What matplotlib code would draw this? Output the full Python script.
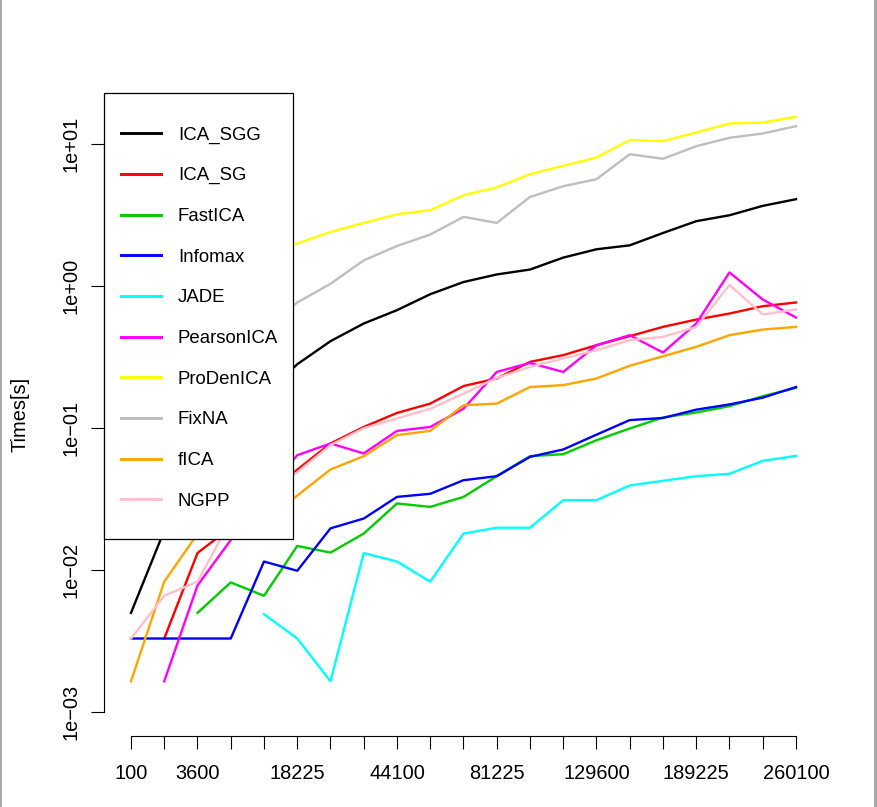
import matplotlib
matplotlib.use("Agg")
import matplotlib.pyplot as plt
import numpy as np
from matplotlib.patches import Rectangle

nan = np.nan

# image sizes (n x n pixels), 21 runs
sizes = [100, 1225, 3600, 7225, 12100, 18225, 25600, 34225, 44100, 55225, 67600,
         81225, 96100, 112225, 129600, 148225, 168100, 189225, 211600, 235225, 260100]
# R dropped overlapping labels, only these were printed
shown = [100, 3600, 18225, 44100, 81225, 129600, 189225, 260100]

ica_sgg = [0.005, 0.019, 0.045, 0.085, 0.17, 0.282, 0.41, 0.546, 0.678, 0.878, 1.07,
           1.21, 1.31, 1.59, 1.82, 1.94, 2.37, 2.87, 3.16, 3.68, 4.10]
ica_sg = [nan, 0.0033, 0.0132, 0.020, 0.032, 0.051, 0.078, 0.102, 0.128, 0.149, 0.198,
          0.224, 0.293, 0.327, 0.384, 0.445, 0.517, 0.582, 0.642, 0.723, 0.768]
fastica = [nan, nan, 0.005, 0.0082, 0.0066, 0.0148, 0.0133, 0.0181, 0.0295, 0.0279, 0.0328,
           0.0459, 0.0635, 0.0656, 0.0823, 0.0995, 0.119, 0.129, 0.143, 0.168, 0.192]
infomax = [0.0033, 0.0033, 0.0033, 0.0033, 0.0115, 0.0099, 0.0197, 0.0231, 0.0328, 0.0345, 0.043,
           0.0459, 0.0628, 0.0708, 0.090, 0.114, 0.118, 0.135, 0.147, 0.164, 0.195]
jade = [nan, nan, nan, nan, 0.0049, 0.0033, 0.00165, 0.0132, 0.0115, 0.0083, 0.0181,
        0.0199, 0.0199, 0.0311, 0.0311, 0.0395, 0.0426, 0.0459, 0.0477, 0.0589, 0.0638]
pearson = [nan, 0.00165, 0.0078, 0.0163, 0.035, 0.0645, 0.078, 0.0664, 0.0957, 0.102, 0.137,
           0.249, 0.288, 0.249, 0.384, 0.452, 0.341, 0.546, 1.25, 0.806, 0.602]
prodenica = [0.15, 0.35, 0.7, 1.1, 1.6, 2.0, 2.41, 2.79, 3.21, 3.43, 4.37,
             4.96, 6.15, 7.04, 8.06, 10.7, 10.5, 12.1, 14.0, 14.2, 15.6]
fixna = [0.04, 0.09, 0.18, 0.32, 0.5, 0.767, 1.04, 1.52, 1.92, 2.31, 3.08,
         2.79, 4.25, 5.06, 5.67, 8.5, 7.9, 9.68, 11.1, 11.9, 13.4]
fica = [0.00165, 0.0083, 0.018, 0.02, 0.022, 0.0335, 0.0512, 0.0635, 0.0893, 0.0957, 0.145,
        0.149, 0.195, 0.201, 0.224, 0.275, 0.321, 0.374, 0.452, 0.495, 0.517]
ngpp = [0.0033, 0.0066, 0.0083, 0.0225, 0.033, 0.049, 0.076, 0.100, 0.117, 0.137, 0.175,
        0.226, 0.270, 0.310, 0.354, 0.417, 0.440, 0.517, 1.02, 0.632, 0.685]

methods = ["ICA_SGG", "ICA_SG", "FastICA", "Infomax", "JADE",
           "PearsonICA", "ProDenICA", "FixNA", "fICA", "NGPP"]
series = [ica_sgg, ica_sg, fastica, infomax, jade, pearson, prodenica, fixna, fica, ngpp]
colors = ["#000000", "#FF0000", "#00CD00", "#0000FF", "#00FFFF",
          "#FF00FF", "#FFFF00", "#BEBEBE", "#FFA500", "#FFC0CB"]

plt.rcParams["font.family"] = ["Liberation Sans", "DejaVu Sans"]

fig = plt.figure(figsize=(8.78, 8.07), dpi=100)
ax = fig.add_axes([0.1189, 0.088, 0.818, 0.7968])

xpos = np.arange(len(sizes))
for name, vals, c in zip(methods, series, colors):
    ax.plot(xpos, vals, color=c, lw=1.7, label=name)

ax.set_yscale("log")
ax.set_xlim(-0.8, 20.8)
ax.set_ylim(10 ** -3.168, 10 ** 1.361)

ax.set_xticks(xpos)
ax.set_xticklabels([str(s) if s in shown else "" for s in sizes])
yt = [1e-3, 1e-2, 1e-1, 1e0, 1e1]
ax.set_yticks(yt)
ax.set_yticklabels(["1e\u221203", "1e\u221202", "1e\u221201", "1e+00", "1e+01"],
                   rotation=90, va="center")
ax.yaxis.set_minor_locator(matplotlib.ticker.NullLocator())

ax.tick_params(axis="both", labelsize=14.4, width=0.8, length=9.2, direction="out")
ax.tick_params(axis="x", pad=11)
ax.tick_params(axis="y", pad=8)

for s in ["top", "right"]:
    ax.spines[s].set_visible(False)
ax.spines["bottom"].set_bounds(0, 20)
ax.spines["left"].set_bounds(1e-3, 1e1)
ax.spines["bottom"].set_linewidth(0.8)
ax.spines["left"].set_linewidth(0.8)

fig.text(20 / 878, 1 - 414 / 807, "Times[s]", rotation=90, ha="center", va="center",
         fontsize=14.4)

# legend box like R's legend("topleft"), white fill hides lines behind it
box_w = 189 / 718.2
box_h = 446 / 643
ax.add_patch(Rectangle((0, 1 - box_h), box_w, box_h, transform=ax.transAxes,
                       facecolor="white", edgecolor="black", lw=0.9, zorder=4,
                       clip_on=False))
leg = ax.legend(loc="upper left", bbox_to_anchor=(0, 1 - 17 / 643), borderaxespad=0,
                fontsize=13.4, frameon=False, handlelength=2.14, handletextpad=0.93,
                labelspacing=1.27, borderpad=0.88)
leg.set_zorder(5)
for h in leg.get_lines():
    h.set_linewidth(2.1)

# grey side borders of the original device
fig.add_artist(Rectangle((0, 0), 2 / 878, 1, transform=fig.transFigure,
                         color="#A8A8A8", lw=0))
fig.add_artist(Rectangle((874.5 / 878, 0), 2.2 / 878, 1, transform=fig.transFigure,
                         color="#A8A8A8", lw=0))

fig.savefig("out.png", dpi=100)
